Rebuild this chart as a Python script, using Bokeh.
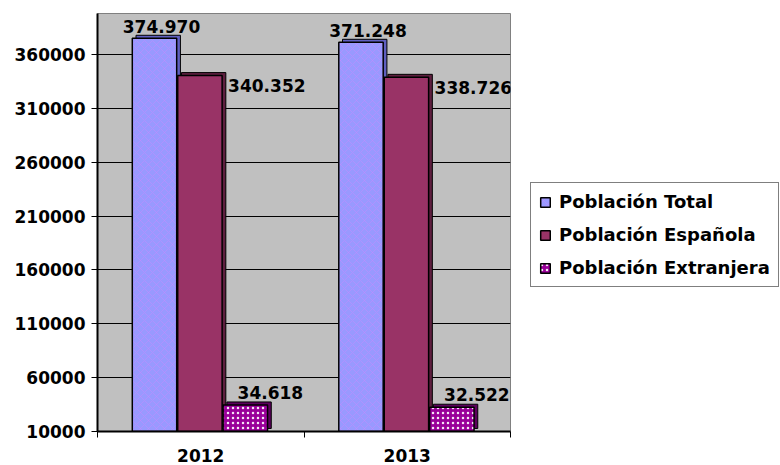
from bokeh.plotting import figure
from bokeh.models import (ColumnDataSource, FixedTicker, PrintfTickFormatter,
                          Legend, LegendItem, Range1d)
from bokeh.core.properties import value
from bokeh.embed import file_html
from bokeh.resources import INLINE

# ---- data ----
years = ["2012", "2013"]
total = [374970, 371248]
espanola = [340352, 338726]
extranjera = [34618, 32522]
series_names = ["Población Total", "Población Española", "Población Extranjera"]
y_ticks = list(range(10000, 360001, 50000))

FONT = "DejaVu Sans"
BASE = 10000


def fmt(v):
    return f"{v:,}".replace(",", ".")


p = figure(frame_width=413, frame_height=418, x_range=Range1d(0, len(years)),
           y_range=Range1d(BASE, 398000), output_backend="svg",
           toolbar_location=None, min_border_left=97, min_border_right=270,
           min_border_top=13, min_border_bottom=34)

p.background_fill_color = "#C0C0C0"
p.border_fill_color = "white"
p.outline_line_color = "#808080"
p.outline_line_width = 1

# axes
p.yaxis.ticker = FixedTicker(ticks=y_ticks)
p.yaxis.formatter = PrintfTickFormatter(format="%d")
p.yaxis.major_tick_out = 6
p.yaxis.major_tick_in = 0
p.yaxis.minor_tick_out = 0
p.yaxis.minor_tick_in = 0
p.yaxis.axis_line_color = "black"
p.yaxis.axis_line_width = 2
p.yaxis.major_tick_line_color = "black"
p.yaxis.major_label_standoff = 6
p.yaxis.major_label_text_font = FONT
p.yaxis.major_label_text_font_style = "bold"
p.yaxis.major_label_text_font_size = "17px"
p.yaxis.major_label_text_color = "black"

centers = [k + 0.5 for k in range(len(years))]
bounds = [k for k in range(len(years) + 1)]
p.xaxis.ticker = FixedTicker(ticks=centers, minor_ticks=bounds)
p.xaxis.major_label_overrides = {c: y for c, y in zip(centers, years)}
p.xaxis.major_tick_out = 0
p.xaxis.major_tick_in = 0
p.xaxis.minor_tick_out = 6
p.xaxis.minor_tick_in = 0
p.xaxis.minor_tick_line_color = "black"
p.xaxis.axis_line_color = "black"
p.xaxis.axis_line_width = 2
p.xaxis.major_label_standoff = 11
p.xaxis.major_label_text_font = FONT
p.xaxis.major_label_text_font_style = "bold"
p.xaxis.major_label_text_font_size = "17px"
p.xaxis.major_label_text_color = "black"

p.xgrid.grid_line_color = None
p.ygrid.ticker = FixedTicker(ticks=y_ticks)
p.ygrid.grid_line_color = "black"
p.ygrid.grid_line_width = 1

bw = 0.215
offsets = [-0.224, -0.004, 0.216]
fills = ["#9999FF", "#993366", "#990099"]
sides = ["#5F5FC0", "#5E1F3F", "#5C005C"]
hatches = [dict(hatch_pattern="x", hatch_color="#CC88FF", hatch_alpha=0.4,
                hatch_scale=8, hatch_weight=1),
           dict(),
           dict(hatch_pattern=".", hatch_color="white", hatch_alpha=0.9,
                hatch_scale=5, hatch_weight=2.5)]
all_vals = [total, espanola, extranjera]
dx = 0.018
dy = 2800

renderers = []
for i, vals in enumerate(all_vals):
    xs = [c + offsets[i] for c in centers]
    src = ColumnDataSource(dict(
        x=xs, top=vals, label=[fmt(v) for v in vals],
        xr=[x + bw / 2 for x in xs],
        xd=[x + dx for x in xs], topd=[v + dy for v in vals]))
    # depth face
    p.vbar(x="xd", top="topd", bottom=BASE + dy, width=bw, source=src,
           fill_color=sides[i], line_color="black", line_width=1)
    r = p.vbar(x="x", top="top", bottom=BASE, width=bw, source=src,
               fill_color=fills[i], line_color="black", line_width=1.5,
               **hatches[i])
    renderers.append(r)
    common = dict(source=src, text="label", text_font=value(FONT),
                  text_font_style="bold", text_font_size="17px",
                  text_color="black")
    if i == 0:
        p.text(x="x", y="top", x_offset=7, y_offset=-5, text_align="center",
               text_baseline="bottom", **common)
    elif i == 1:
        p.text(x="xr", y="top", x_offset=6, y_offset=10, text_align="left",
               text_baseline="middle", **common)
    else:
        p.text(x="x", y="top", x_offset=25, y_offset=-6, text_align="center",
               text_baseline="bottom", **common)

legend = Legend(items=[LegendItem(label=n, renderers=[r])
                       for n, r in zip(series_names, renderers)],
                location=(20, 144))
legend.label_text_font = FONT
legend.label_text_font_style = "bold"
legend.label_text_font_size = "18px"
legend.label_text_color = "black"
legend.glyph_width = 12
legend.glyph_height = 12
legend.spacing = 12
legend.padding = 8
legend.margin = 0
legend.label_standoff = 8
legend.border_line_color = "black"
legend.border_line_width = 1
legend.background_fill_color = "white"
legend.background_fill_alpha = 1
p.add_layout(legend, "right")

open("out.html", "w").write(file_html(p, INLINE))
